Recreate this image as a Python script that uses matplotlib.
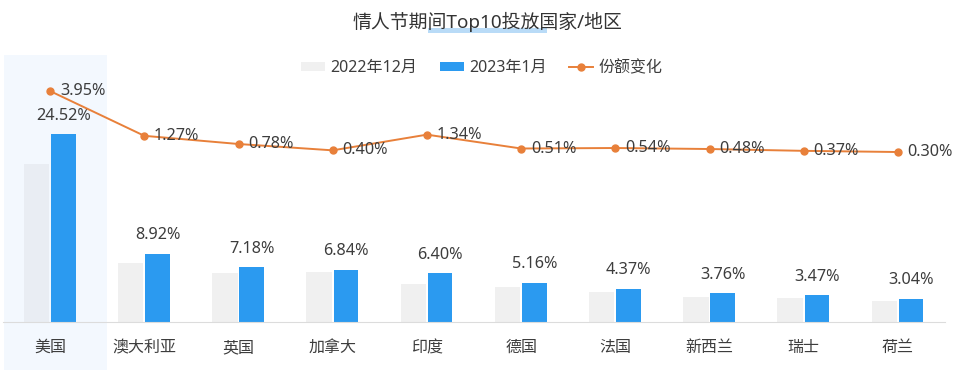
import matplotlib
matplotlib.use("Agg")
import matplotlib.pyplot as plt
from matplotlib.lines import Line2D
from matplotlib.patches import Patch, Rectangle
import numpy as np

plt.rcParams["font.family"] = ["Noto Sans", "Noto Sans CJK SC", "DejaVu Sans"]

# data
countries = ["美国", "澳大利亚", "英国", "加拿大", "印度", "德国", "法国", "新西兰", "瑞士", "荷兰"]
share_2022_12 = [20.65, 7.7, 6.4, 6.5, 5.0, 4.6, 3.9, 3.3, 3.1, 2.75]
share_2023_01 = [24.52, 8.92, 7.18, 6.84, 6.40, 5.16, 4.37, 3.76, 3.47, 3.04]
share_change = [3.95, 1.27, 0.78, 0.40, 1.34, 0.51, 0.54, 0.48, 0.37, 0.30]

W, H = 960, 382
GRAY = "#f0f0f0"
BLUE = "#2b9af0"
ORANGE = "#e8803a"
TEXT = "#3d3d3d"

fig = plt.figure(figsize=(W / 100, H / 100), dpi=100)
fig.patch.set_facecolor("white")


def fx(px):
    return px / W


def fy(py):
    return 1 - py / H


# highlight band behind first category (spans tick label too)
fig.add_artist(Rectangle((fx(4), fy(370)), fx(103), (370 - 55) / H,
                         transform=fig.transFigure, facecolor="#f3f8fe",
                         edgecolor="none", zorder=0))

ax = fig.add_axes([fx(3), fy(322), fx(942), (322 - 55) / H])
ax.patch.set_alpha(0)
x = np.arange(len(countries))

ax.bar(x - 0.145, share_2022_12, width=0.27, color=GRAY, zorder=2)
# first gray bar sits on the highlight, slightly bluish
ax.patches[0].set_facecolor("#e9edf3")
ax.bar(x + 0.14, share_2023_01, width=0.26, color=BLUE, zorder=2)

for xi, v in zip(x, share_2023_01):
    ax.annotate(f"{v:.2f}%", (xi + 0.14, v), xytext=(0, 7.5), textcoords="offset points",
                ha="center", va="bottom", fontsize=11.7, color=TEXT)

ax.set_xlim(-0.5, len(countries) - 0.5)
ax.set_ylim(0, 34.9)
ax.set_xticks(x)
ax.set_xticklabels(countries, fontsize=11.5, color=TEXT)
ax.tick_params(axis="x", length=0, pad=13)
ax.set_yticks([])
for s in ("left", "right", "top"):
    ax.spines[s].set_visible(False)
ax.spines["bottom"].set_color("#dcdcdc")

ax2 = ax.twinx()
ax2.plot(x, share_change, color=ORANGE, linewidth=1.4, marker="o", markersize=5, zorder=3)
ax2.set_ylim(-9.88, 6.11)
ax2.set_yticks([])
for s in ax2.spines.values():
    s.set_visible(False)
for xi, v in zip(x, share_change):
    ax2.annotate(f"{v:.2f}%", (xi, v), xytext=(7, 0), textcoords="offset points",
                 ha="left", va="center", fontsize=11.7, color=TEXT)

# title with soft highlight stroke under part of it
fig.add_artist(Rectangle((fx(428), fy(33)), fx(119), 5 / H, transform=fig.transFigure,
                         facecolor="#a8d3f5", edgecolor="none", alpha=0.8, zorder=1))
fig.text(fx(487), fy(22), "情人节期间Top10投放国家/地区", ha="center", va="center",
         fontsize=13.6, color="#333333", zorder=2)

handles = [
    Patch(facecolor=GRAY, edgecolor="none"),
    Patch(facecolor=BLUE, edgecolor="none"),
    Line2D([], [], color=ORANGE, linewidth=1.4, marker="o", markersize=5),
]
fig.legend(handles, ["2022年12月", "2023年1月", "份额变化"], loc="center",
           bbox_to_anchor=(fx(482), fy(68)), ncol=3, frameon=False, fontsize=11.5,
           handlelength=1.5, handleheight=0.55, handletextpad=0.35, columnspacing=1.4,
           labelcolor=TEXT)

fig.savefig("out.png", dpi=100)
